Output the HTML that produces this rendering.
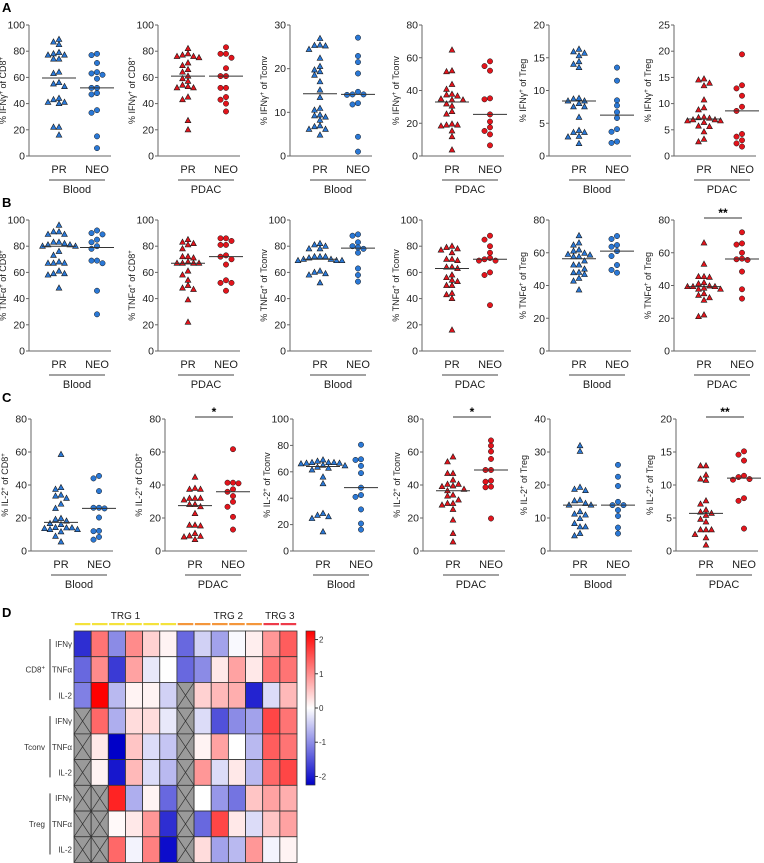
<!DOCTYPE html>
<html><head><meta charset="utf-8">
<style>
body{margin:0;background:#fff;}
svg{display:block;font-family:"Liberation Sans",Arial,sans-serif;}
</style></head>
<body>
<svg id="fig" width="764" height="863" viewBox="0 0 764 863"></svg>
<script>
// ---------- Data ----------
const panelYLabels = [
 ["IFNγ","CD8"],["IFNγ","CD8"],["IFNγ","Tconv"],["IFNγ","Tconv"],["IFNγ","Treg"],["IFNγ","Treg"],
 ["TNFα","CD8"],["TNFα","CD8"],["TNFα","Tconv"],["TNFα","Tconv"],["TNFα","Treg"],["TNFα","Treg"],
 ["IL-2","CD8"],["IL-2","CD8"],["IL-2","Tconv"],["IL-2","Tconv"],["IL-2","Treg"],["IL-2","Treg"]];
const yMaxes = [100,100,30,80,20,25, 100,100,100,100,80,80, 80,80,100,80,40,20];
const yStepsArr = [20,20,10,20,5,5, 20,20,20,20,20,20, 20,20,20,20,10,5];
const groupLabels = ["Blood","PDAC"];
const categories = ["PR","NEO"];
const sigMarks = [null,null,null,null,null,null, null,null,null,null,null,"**", null,"*",null,"*",null,"**"];

const prValues = [
 [89,87,85,79,78,77,77,74,74,64,63,56,55,53,44,43,41,41,40,22,22,16],
 [82,78,77,76,76,75,71,69,66,64,61,59,57,54,53,52,52,45,43,27,20],
 [26.9,25.4,25.3,25.2,24.4,22.4,20.5,19.7,19.3,18.5,17,15.1,13.4,10.9,10.5,9.4,9.2,8.9,8.2,6.9,6.7,6.1,6.1,4.8],
 [64.7,51.5,52,43.7,40.7,37.3,37.7,36.6,34.8,34.2,34.2,30.5,31.8,27.1,25.6,19.5,18.9,18.3,18.9,15.3,11.8,3.7],
 [16.3,15.9,15.7,15.3,14.4,14,13.5,8.8,8.7,8.4,8.4,8,7.5,7.5,5.9,3.9,3.6,3.6,3,2.9,1.9],
 [14.7,14.5,13.9,13.4,10.7,9.2,8.8,7.4,7.3,7.2,6.9,6.9,6.7,6.7,6.4,5.7,5.6,4.6,3.2,2.7],
 [96,91,91,89,89,83,83,82,81,81,80,80,76,73,68,67,67,67,61,59,59,58,48],
 [85,83,82,81,78,72,72,71,68,67,67,67,67,61,58,54,50,48,47,39,22],
 [82,81,80,78,78,72,72,72,71,70,70,69,69,69,61,60,59,58,52],
 [77,78,79,80,75,70,70,69,64,64,63,58,56,54,53,50,50,44,43,40,16],
 [70.4,66,64.7,61.7,61,59.7,59,58.6,57.6,57.6,55,52.5,52.5,50,48,47.8,46.7,44.4,42.7,37.3],
 [66,53,45.4,45.4,45,41.7,41,39.7,39.3,39.3,39.3,38.3,37.7,37.7,35,34,32.5,31,22,21],
 [58.5,38.4,37.4,33.9,33.3,31.9,28.4,25.8,19.7,19.1,18.1,16.6,16,14.2,14,14,13.6,13,13,11.6,8.9,5.5],
 [44.7,38,37.4,37.4,31.9,31.9,31.9,30.9,28.2,28.2,26.8,22.7,15.6,15.6,15.2,10.6,9.1,8.9,8.5,6.9],
 [69,68,67,67,67,66.5,66.5,66,65,64.5,63.5,62.7,61.4,56,51,28.4,27,26,24.6,14.5],
 [57,54,47,47,43,40.4,40.4,39.4,39,37.4,36.5,33.9,33.3,30.9,28.8,28.8,27.8,25.2,18.7,10.6,5.5],
 [31.9,30.2,19.3,18.7,18.3,15.2,15.4,14.4,13.9,13.9,11.9,11.2,10.9,9.8,8.3,7.3,7.3,5.3,4.6],
 [12.9,12.9,11.5,10.9,10.7,7.6,7.1,6.2,5.9,5.7,5.4,4.8,4.4,3.2,3.2,3.2,2.5,2.0,0.9]];
const neoValues = [
 [78,77,71,64,63,62,59,52,52,47,48,35,33,15,6],
 [83,78,78,75,67,61,61,52,52,45,43,40,34],
 [27.1,22.9,21.5,18.9,14.7,14.1,14.1,14,12.1,11.8,4.4,1.0],
 [57.8,54.9,52.1,34.6,35.2,25.4,21,17.5,15.3,13.2,6.5],
 [13.5,11.5,8.5,7.7,6.7,5.8,4.1,3.7,2.0,2.2],
 [19.4,13.5,12.9,11.5,9.4,8.6,4.2,3.7,3.0,2.4,1.8],
 [92,90,89,85,83,78,80,69,69,67,46,28],
 [86,86,84,81,81,73,72,70,66,54,52,52,46],
 [89,88,83,80,79,78,75,63,58,53],
 [88,85,80,75,70,69,71,69,60,58,35],
 [70.2,68.4,64.7,63.7,61,58,52.5,49.5,47.8],
 [72.5,65.7,65,60,56.4,56,55.6,48.5,37.7,32],
 [45.5,44,36.3,26.2,26.2,25.8,20.3,12.2,12,8.5,6.9],
 [61.7,41.4,41.4,41,37.4,35.9,33.3,29.8,26.8,20.7,13],
 [80.5,69.5,69,64.5,59,48,42.4,41,31.5,20.8,16.2],
 [67,63.8,60.3,55.8,49.1,49.1,42.6,42,39,38.6,19.7],
 [26.1,22.5,19.7,14.9,13.9,13.9,12.4,10.6,7.1,5.3],
 [15.1,14.6,13.7,11.4,11.2,10.9,10.8,8.0,7.6,3.4]];

// heatmap
const hmCols = 13;
const hmCellTypes = ["CD8","Tconv","Treg"];
const hmCytokines = ["IFNγ","TNFα","IL-2"];
const trgGroups = [1,1,1,1,1,1,2,2,2,2,2,3,3];
const hmValues = [
 [-1.8,1.2,-1.0,1.0,0.4,0.1,-1.3,-0.4,-0.8,-0.05,0.15,0.9,1.4],
 [-1.3,1.0,-1.7,0.8,-0.2,0.0,-1.3,-1.0,0.2,0.8,0.2,1.2,1.2],
 [-1.1,2.2,-0.6,0.1,0.1,-0.4,null,0.4,0.6,0.7,-1.9,-0.3,0.6],
 [null,1.3,-0.7,0.3,0.3,-0.2,null,-0.3,-1.5,-1.0,-0.8,1.6,1.2],
 [null,0.2,-2.2,0.5,-0.3,-0.5,null,0.1,0.8,0.0,-0.6,1.4,1.2],
 [null,0.1,-2.0,0.6,-0.3,-0.6,null,0.9,-0.3,0.2,-0.6,1.3,1.6],
 [null,null,1.9,-0.7,0.1,-1.3,null,0.0,-0.9,-1.2,0.5,0.8,0.7],
 [null,null,0.05,0.2,0.9,-1.8,null,-1.3,1.6,0.2,-0.3,0.5,0.8],
 [null,null,1.3,-0.1,1.1,-2.1,null,0.3,-0.8,-0.6,0.9,-0.1,0.1]];
const cbTicks = [2,1,0,-1,-2];

// ---------- drawing ----------
const NS="http://www.w3.org/2000/svg";
const svg=document.getElementById('fig');
function mk(tag,attrs,parent){const e=document.createElementNS(NS,tag);for(const k in attrs)e.setAttribute(k,attrs[k]);(parent||svg).appendChild(e);return e;}
function txt(s,attrs,parent){const e=mk('text',attrs,parent);e.textContent=s;return e;}

const rowTops=[25,220,419];
const rowZeros=[156,351,551];
const axesX=[[29,158,290,422,549,674],[29,158,290,422,549,674],[31,165,293,423,550,676]];
const letters=["A","B","C"];
letters.forEach((L,i)=>{
 const t=txt(L,{x:2,y:[12,207,402][i],'font-size':13,'font-weight':'bold'});
 
 
});

for(let p=0;p<18;p++){
 const r=Math.floor(p/6), c=p%6;
 const ax=axesX[r][c], top=rowTops[r], zero=rowZeros[r];
 const ymax=yMaxes[p], step=yStepsArr[p];
 const yS=v=>zero-(v/ymax)*(zero-top);
 const g=mk('g',{});
 
 
 const ya=mk('line',{x1:ax,y1:top,x2:ax,y2:zero,stroke:'#666','stroke-width':1},g);
 
 
 const xa=mk('line',{x1:ax,y1:zero,x2:ax+82,y2:zero,stroke:'#666','stroke-width':1},g);
 
 
 for(let v=0;v<=ymax+1e-9;v+=step){
  const y=yS(v);
  mk('line',{x1:ax-3,y1:y,x2:ax,y2:y,stroke:'#666'},g);
  const tl=txt(String(v),{x:ax-4,y:y+3.5,'font-size':10.5,'text-anchor':'end',fill:'#222'},g);
  
  
 }
 const lab=panelYLabels[p];
 const cy=(top+zero)/2, tx=ax-23;
 const yt=mk('text',{x:tx,y:cy,'font-size':9,'text-anchor':'middle',fill:'#222',transform:`rotate(-90 ${tx} ${cy})`},g);
 
 
 yt.innerHTML=`% ${lab[0]}<tspan dy="-3" font-size="6">+</tspan><tspan dy="3"> of ${lab[1]}</tspan>`+(lab[1]==="CD8"?`<tspan dy="-3" font-size="6">+</tspan>`:'');
 const cx=[ax+30,ax+68];
 categories.forEach((cat,i)=>{
  const ct=txt(cat,{x:cx[i],y:zero+17,'font-size':11,'text-anchor':'middle',fill:'#222'},g);
  
  
 });
 mk('line',{x1:ax+20,y1:zero+24,x2:ax+76,y2:zero+24,stroke:'#444'},g);
 const gl=txt(groupLabels[c%2],{x:ax+48,y:zero+37,'font-size':11,'text-anchor':'middle',fill:'#222'},g);
 
 
 const isBlood=(c%2===0);
 const fill=isBlood?'#2a78d6':'#e3141c';
 [prValues[p],neoValues[p]].forEach((vals,gi)=>{
  const placed=[];
  const sorted=vals.slice().sort((a,b)=>b-a);
  sorted.forEach(v=>{
   const y=yS(v);
   const offs=[0,-5.5,5.5,-11,11,-16.5,16.5,-22,22];
   let dx=0;
   for(const o of offs){ if(placed.every(q=>Math.hypot(q[0]-o,q[1]-y)>=5.2)){dx=o;break;} }
   placed.push([dx,y]);
   const x=cx[gi]+dx;
   let m;
   if(gi===0){
    m=mk('polygon',{points:`${x},${y-3.2} ${x-2.9},${y+2.1} ${x+2.9},${y+2.1}`,fill:fill,stroke:'#1a1a1a','stroke-width':0.6},g);
   } else {
    m=mk('circle',{cx:x,cy:y,r:2.7,fill:fill,stroke:'#1a1a1a','stroke-width':0.5},g);
   }
   
   
  });
  const s=vals.slice().sort((a,b)=>a-b), n=s.length;
  const med=n%2?s[(n-1)/2]:(s[n/2-1]+s[n/2])/2;
  const ml=mk('line',{x1:cx[gi]-17,y1:yS(med),x2:cx[gi]+17,y2:yS(med),stroke:'#333','stroke-width':1},g);
  
  
 });
 if(sigMarks[p]){
  const sy=top-2;
  mk('line',{x1:cx[0],y1:sy,x2:cx[1],y2:sy,stroke:'#333'},g);
  const st=txt(sigMarks[p],{x:(cx[0]+cx[1])/2,y:sy-1,'font-size':12,'font-weight':'bold','text-anchor':'middle'},g);
  
  
 }
}

// ---------- heatmap ----------
const hx0=74,hx1=297,hy0=631,hy1=862.5;
const cw=(hx1-hx0)/hmCols, ch=(hy1-hy0)/hmValues.length;
const dl=txt("D",{x:2,y:617,'font-size':13,'font-weight':'bold'});


function colorOf(v){
 const t=Math.max(-1,Math.min(1,v/2.2));
 if(t>=0){const a=t;return `rgb(255,${Math.round(255-255*a)},${Math.round(255-255*a)})`;}
 const a=-t;return `rgb(${Math.round(255-255*a)},${Math.round(255-255*a)},${Math.round(255-55*a)})`;
}
const hg=mk('g',{});


hmValues.forEach((row,ri)=>{
 row.forEach((v,ci)=>{
  const x=hx0+ci*cw,y=hy0+ri*ch;
  const cell=mk('rect',{x:x,y:y,width:cw,height:ch,fill:v===null?'#9a9a9a':colorOf(v),stroke:'#333','stroke-width':0.8},hg);
  
  
  if(v===null){
   mk('line',{x1:x,y1:y,x2:x+cw,y2:y+ch,stroke:'#333','stroke-width':0.7},hg);
   mk('line',{x1:x+cw,y1:y,x2:x,y2:y+ch,stroke:'#333','stroke-width':0.7},hg);
  }
 });
});
const trgColors={1:'#f4e23c',2:'#f4963c',3:'#ee3b4a'};
trgGroups.forEach((g,ci)=>{
 const b=mk('rect',{x:hx0+ci*cw+0.8,y:623,width:cw-1.6,height:2.2,fill:trgColors[g]});
 
 
});
[["TRG 1",2.5],["TRG 2",8.5],["TRG 3",11.5]].forEach(([s,cpos])=>{
 const t=txt(s,{x:hx0+(cpos+0.5)*cw,y:619,'font-size':10,'text-anchor':'middle',fill:'#222'});
 
 
});
hmValues.forEach((row,ri)=>{
 const t=txt(hmCytokines[ri%3],{x:hx0-2,y:hy0+(ri+0.5)*ch+3,'font-size':8,'text-anchor':'end',fill:'#333'});
 
 
});
hmCellTypes.forEach((ct,i)=>{
 const y0=hy0+i*3*ch+8, y1=hy0+(i+1)*3*ch-8;
 mk('line',{x1:50,y1:y0,x2:50,y2:y1,stroke:'#333'});
 const t=mk('text',{x:45,y:(y0+y1)/2+3,'font-size':8,'text-anchor':'end',fill:'#333'});
 t.innerHTML=ct==="CD8"?'CD8<tspan dy="-3" font-size="6">+</tspan>':ct;
 
 
});
const cbx=306,cbw=9,cby0=631,cby1=785,cbMax=2.25;
const defs=mk('defs',{});
const lg=mk('linearGradient',{id:'cbg',x1:0,y1:0,x2:0,y2:1},defs);
[[0,colorOf(2.2)],[0.5,'#fff'],[1,colorOf(-2.2)]].forEach(([o,c])=>mk('stop',{offset:o,'stop-color':c},lg));
const cb=mk('rect',{x:cbx,y:cby0,width:cbw,height:cby1-cby0,fill:'url(#cbg)',stroke:'#333','stroke-width':0.7});


const cbS=v=>(cby0+cby1)/2-(v/cbMax)*(cby1-cby0)/2;
cbTicks.forEach(v=>{
 const y=cbS(v);
 mk('line',{x1:cbx+cbw,y1:y,x2:cbx+cbw+3,y2:y,stroke:'#333'});
 const t=txt(String(v),{x:cbx+cbw+4,y:y+3,'font-size':8,fill:'#333'});
 
 
});
</script>
</body></html>
